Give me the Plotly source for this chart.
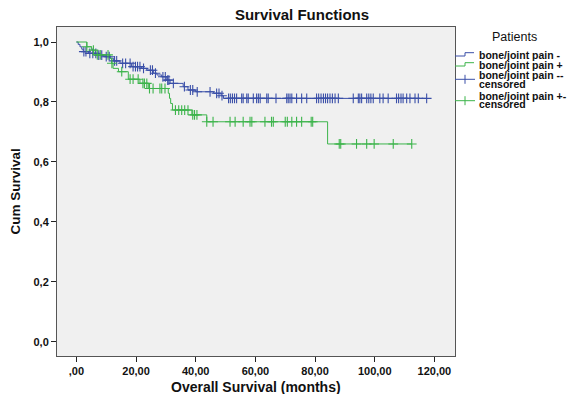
import numpy as np
import plotly.graph_objects as go

# ---------------- data ----------------
neg_times = [0, 0.6, 1.2, 1.8, 2.3, 4.0, 6.8, 9.0, 11.3, 12.4, 14.6, 18.5, 21.9, 23.6,
             25.8, 27.0, 28.6, 30.3, 31.4, 35.8, 37.4, 40.0, 46.0, 48.5, 49.3, 117.4]
neg_surv = [1.0, 0.992, 0.984, 0.976, 0.968, 0.962, 0.956, 0.951, 0.946, 0.937, 0.929,
            0.918, 0.912, 0.906, 0.896, 0.890, 0.884, 0.873, 0.862, 0.851, 0.840, 0.834,
            0.829, 0.821, 0.812, 0.812]

pos_times = [0, 3.5, 5.1, 6.3, 11.3, 11.8, 12.3, 14.1, 17.4, 21.3, 24.1, 30.8, 31.2,
             31.6, 32.2, 38.7, 43.7, 84.2, 112.4]
pos_surv = [1.0, 0.984, 0.973, 0.957, 0.946, 0.929, 0.912, 0.901, 0.876, 0.862, 0.845,
            0.829, 0.812, 0.795, 0.773, 0.757, 0.734, 0.660, 0.660]

neg_censored = [2.5, 3.2, 4.5, 5.5, 6.5, 7.5, 8.5, 10.0, 11.0, 12.8, 13.5, 15.5, 16.5,
                18.0, 19.0, 19.8, 20.5, 21.3, 22.5, 24.8, 25.5, 26.5, 29.0, 29.8, 30.6,
                31.0, 32.5, 36.2, 38.2, 39.0, 40.5, 44.8, 47.0, 47.8, 48.8, 51.0, 51.6,
                52.3, 53.0, 53.7, 55.4, 55.9, 57.1, 57.6, 59.3, 60.4, 61.0, 61.6, 63.8,
                64.3, 66.9, 70.5, 71.0, 71.6, 72.2, 73.8, 75.5, 77.2, 80.5, 81.2, 82.0,
                82.8, 83.5, 84.2, 85.0, 85.8, 86.7, 87.8, 92.8, 94.5, 95.0, 95.6, 97.3,
                98.0, 98.7, 99.5, 101.7, 102.8, 104.5, 107.3, 108.0, 108.8, 109.5,
                110.7, 111.8, 113.5, 114.6, 117.4]
pos_censored = [3.5, 5.7, 7.0, 8.0, 10.6, 11.9, 15.2, 18.0, 19.0, 20.7, 22.3, 22.8, 23.6,
                24.5, 25.7, 28.0, 28.6, 29.7, 33.2, 34.3, 35.3, 36.3, 37.4, 39.0, 39.6,
                40.4, 43.7, 45.8, 51.5, 53.2, 55.9, 58.2, 58.8, 63.2, 65.4, 66.0, 70.0,
                70.7, 72.2, 73.8, 75.5, 78.7, 79.2, 88.1, 88.6, 93.9, 97.3, 99.8, 106.2,
                112.4]

x_tickvals = [0, 20, 40, 60, 80, 100, 120]
x_ticktext = [",00", "20,00", "40,00", "60,00", "80,00", "100,00", "120,00"]
y_tickvals = [0.0, 0.2, 0.4, 0.6, 0.8, 1.0]
y_ticktext = ["0,0", "0,2", "0,4", "0,6", "0,8", "1,0"]

legend_labels = ["bone/joint pain -", "bone/joint pain +",
                 "bone/joint pain --", "bone/joint pain +-"]

BLUE = "#3a4fa8"
GREEN = "#3cb44b"


def surv_at(times, surv, t):
    idx = np.searchsorted(np.array(times), np.array(t), side="right") - 1
    return np.array(surv)[idx]


fig = go.Figure()
fig.add_trace(go.Scatter(x=neg_times, y=neg_surv, mode="lines", line_shape="hv",
                         line=dict(color=BLUE, width=1), showlegend=False))
fig.add_trace(go.Scatter(x=pos_times, y=pos_surv, mode="lines", line_shape="hv",
                         line=dict(color=GREEN, width=1), showlegend=False))
fig.add_trace(go.Scatter(x=neg_censored, y=surv_at(neg_times, neg_surv, neg_censored),
                         mode="markers",
                         marker=dict(symbol="cross-thin-open", size=7, color=BLUE,
                                     line=dict(color=BLUE, width=1.1)),
                         showlegend=False))
fig.add_trace(go.Scatter(x=pos_censored, y=surv_at(pos_times, pos_surv, pos_censored),
                         mode="markers",
                         marker=dict(symbol="cross-thin-open", size=7, color=GREEN,
                                     line=dict(color=GREEN, width=1.1)),
                         showlegend=False))

W, H = 568, 394
L, R, T, B = 57, 113, 27, 38
PW, PH = W - L - R, H - T - B


def px(x):
    return (x - L) / PW


def py(y):
    return (H - B - y) / PH


FONT = "Arial, Liberation Sans, sans-serif"

annotations = [
    dict(text="<b>Overall Survival (months)</b>", x=0.5, y=py(387), xref="paper",
         yref="paper", showarrow=False, xanchor="center", yanchor="middle",
         font=dict(family=FONT, size=14, color="#111")),
    dict(text="<b>Cum Survival</b>", x=px(15), y=0.5, xref="paper", yref="paper",
         showarrow=False, textangle=-90, xanchor="center", yanchor="middle",
         font=dict(family=FONT, size=13.5, color="#111")),
    dict(text="Patients", x=px(514), y=py(37), xref="paper", yref="paper",
         showarrow=False, xanchor="center", yanchor="middle",
         font=dict(family=FONT, size=12.5, color="#111")),
]
legend_rows = [(legend_labels[0], 55), (legend_labels[1], 65),
               (legend_labels[2], 75), ("censored", 84.3),
               (legend_labels[3], 96), ("censored", 104.3)]
for txt, yy in legend_rows:
    annotations.append(dict(text="<b>" + txt + "</b>", x=px(477), y=py(yy),
                            xref="paper", yref="paper", showarrow=False,
                            xanchor="left", yanchor="middle",
                            font=dict(family=FONT, size=10.5, color="#111")))

shapes = []
for color, yb, yt in [(BLUE, 56, 52.7), (GREEN, 66, 62.7)]:
    shapes.append(dict(type="path", xref="paper", yref="paper",
                       path=f"M {px(455)},{py(yb)} L {px(465)},{py(yb)} L {px(465)},{py(yt)} L {px(474)},{py(yt)}",
                       line=dict(color=color, width=1)))
for color, yc in [(BLUE, 79.3), (GREEN, 100.7)]:
    shapes.append(dict(type="line", xref="paper", yref="paper", x0=px(455), x1=px(475),
                       y0=py(yc), y1=py(yc), line=dict(color=color, width=1)))
    shapes.append(dict(type="line", xref="paper", yref="paper", x0=px(465), x1=px(465),
                       y0=py(yc - 4.5), y1=py(yc + 4.5), line=dict(color=color, width=1)))

tickfont = dict(family=FONT, size=11, color="#111", weight="bold")

fig.update_layout(
    width=W, height=H,
    margin=dict(l=L, r=R, t=T, b=B, pad=0),
    paper_bgcolor="white", plot_bgcolor="#f0f0f0",
    showlegend=False,
    title=dict(text="<b>Survival Functions</b>", x=302 / W, y=1 - 15 / H,
               xref="container", yref="container", xanchor="center", yanchor="middle",
               font=dict(family=FONT, size=15, color="#111")),
    xaxis=dict(range=[-6.5, 126.9], tickvals=x_tickvals, ticktext=x_ticktext,
               ticks="outside", ticklen=5, tickcolor="#222", showline=True,
               linecolor="#555", linewidth=1, mirror=True, showgrid=False,
               zeroline=False, tickfont=tickfont),
    yaxis=dict(range=[-0.047, 1.05], tickvals=y_tickvals, ticktext=y_ticktext,
               ticks="outside", ticklen=5, tickcolor="#222", showline=True,
               linecolor="#555", linewidth=1, mirror=True, showgrid=False,
               zeroline=False, tickfont=tickfont),
    annotations=annotations,
    shapes=shapes,
)

fig.write_html("out.html", config={"displayModeBar": False},
               post_script="document.body.style.margin='0';document.body.style.overflow='hidden';")
